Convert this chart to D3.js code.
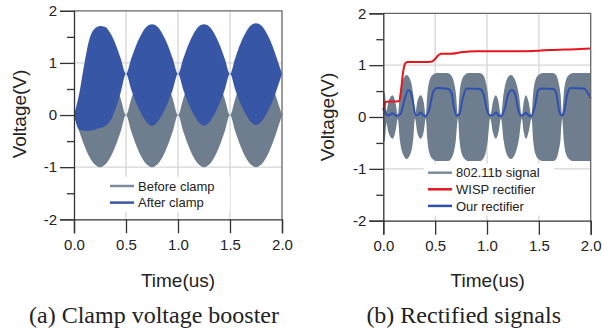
<!DOCTYPE html>
<html>
<head>
<meta charset="utf-8">
<script src="https://cdn.jsdelivr.net/npm/d3@7"></script>
<style>
  body { margin: 0; background: #fff; }
  svg { display: block; }
  text { font-family: "Liberation Sans", Arial, sans-serif; fill: #222; }
</style>
</head>
<body>
<script>
const width = 602;
const height = 334;

// ---- (a) clamp voltage booster: envelopes of the carrier
const clampT = [0, 0.05, 0.1, 0.15, 0.2, 0.25, 0.3, 0.35, 0.4, 0.45,
  0.5, 0.55, 0.6, 0.65, 0.7, 0.75, 0.8, 0.85, 0.9, 0.95,
  1.0, 1.05, 1.1, 1.15, 1.2, 1.25, 1.3, 1.35, 1.4, 1.45,
  1.5, 1.55, 1.6, 1.65, 1.7, 1.75, 1.8, 1.85, 1.9, 1.95, 2.0];
const beforeEnv = [0, 0.31, 0.59, 0.81, 0.95, 1.0, 0.95, 0.81, 0.59, 0.31,
  0, 0.31, 0.59, 0.81, 0.95, 1.0, 0.95, 0.81, 0.59, 0.31,
  0, 0.31, 0.59, 0.81, 0.95, 1.0, 0.95, 0.81, 0.59, 0.31,
  0, 0.31, 0.59, 0.81, 0.95, 1.0, 0.95, 0.81, 0.59, 0.31, 0];
const afterHi = [0, 0.41, 0.99, 1.47, 1.66, 1.71, 1.69, 1.57, 1.36, 1.08,
  0.79, 1.08, 1.35, 1.56, 1.70, 1.74, 1.70, 1.56, 1.35, 1.08,
  0.79, 1.08, 1.35, 1.56, 1.70, 1.74, 1.70, 1.56, 1.35, 1.08,
  0.79, 1.09, 1.37, 1.58, 1.72, 1.76, 1.72, 1.58, 1.37, 1.09, 0.79];
const afterLo = [0, -0.28, -0.30, -0.30, -0.28, -0.25, -0.21, -0.11, 0.12, 0.44,
  0.79, 0.49, 0.22, 0.01, -0.14, -0.21, -0.14, 0.01, 0.22, 0.49,
  0.79, 0.49, 0.22, 0.01, -0.14, -0.21, -0.14, 0.01, 0.22, 0.49,
  0.79, 0.49, 0.22, 0.02, -0.13, -0.19, -0.13, 0.02, 0.22, 0.49, 0.79];

// ---- (b) rectified signals
const sigT = [0, 0.015, 0.03, 0.05, 0.09, 0.12, 0.14, 0.16, 0.19, 0.225, 0.26, 0.29, 0.305,
  0.33, 0.36, 0.39, 0.41, 0.425, 0.445, 0.475, 0.52, 0.62, 0.655, 0.68, 0.70, 0.72,
  0.735, 0.755, 0.785, 0.82, 0.93, 0.965, 0.99, 1.01, 1.03,
  1.06, 1.085, 1.11, 1.135, 1.16, 1.19, 1.23, 1.27, 1.31, 1.335,
  1.355, 1.376, 1.40, 1.43, 1.445, 1.465, 1.495, 1.54, 1.635, 1.67, 1.69, 1.71, 1.725,
  1.74, 1.76, 1.79, 1.83, 2.0];
const sigAmp = [0.50, 0.45, 0.12, 0.30, 0.42, 0.25, 0.04, 0.45, 0.72, 0.81, 0.72, 0.40, 0.03,
  0.32, 0.42, 0.28, 0.03, 0.45, 0.70, 0.81, 0.85, 0.85, 0.80, 0.68, 0.45, 0.03,
  0.45, 0.70, 0.81, 0.85, 0.85, 0.80, 0.66, 0.42, 0.03,
  0.32, 0.42, 0.30, 0.03, 0.45, 0.72, 0.81, 0.72, 0.40, 0.03,
  0.30, 0.42, 0.30, 0.03, 0.45, 0.70, 0.81, 0.85, 0.85, 0.80, 0.66, 0.42, 0.03,
  0.45, 0.70, 0.81, 0.85, 0.85];

const wispT = [0, 0.01, 0.02, 0.05, 0.10, 0.155, 0.17, 0.19, 0.21, 0.23, 0.30, 0.40, 0.47,
  0.50, 0.53, 0.56, 0.65, 0.75, 0.90, 1.0, 1.25, 1.5, 1.6, 1.75, 1.9, 2.0];
const wispV = [0.13, 0.20, 0.29, 0.30, 0.30, 0.31, 0.50, 0.85, 1.03, 1.06, 1.06, 1.06, 1.07,
  1.12, 1.19, 1.22, 1.22, 1.25, 1.27, 1.27, 1.27, 1.28, 1.29, 1.30, 1.31, 1.32];

const ourT = [0, 0.026, 0.048, 0.09, 0.129, 0.167, 0.2, 0.24, 0.264, 0.29, 0.31, 0.334, 0.36,
  0.386, 0.41, 0.444, 0.48, 0.52, 0.627, 0.66, 0.68, 0.707, 0.733, 0.765, 0.804, 0.932,
  0.97, 0.997, 1.03, 1.06, 1.087, 1.11, 1.138, 1.17, 1.206, 1.238, 1.27, 1.3, 1.325, 1.35,
  1.376, 1.40, 1.428, 1.46, 1.495, 1.527, 1.64, 1.672, 1.695, 1.72, 1.743, 1.775, 1.807,
  1.936, 1.968, 2.0];
const ourV = [0.17, 0.06, 0.03, 0.07, 0.02, 0.06, 0.30, 0.52, 0.48, 0.25, 0.04, 0.04, 0.09,
  0.03, 0.02, 0.15, 0.48, 0.56, 0.54, 0.45, 0.20, 0.03, 0.05, 0.35, 0.55, 0.54,
  0.42, 0.15, 0.03, 0.04, 0.09, 0.03, 0.02, 0.15, 0.45, 0.52, 0.45, 0.15, 0.03, 0.04,
  0.08, 0.03, 0.02, 0.20, 0.52, 0.55, 0.54, 0.42, 0.12, 0.03, 0.10, 0.45, 0.56,
  0.55, 0.48, 0.36];

const xTicks = [0, 0.5, 1.0, 1.5, 2.0];
const yTicks = [-2, -1, 0, 1, 2];
const yMinor = [-1.5, -0.5, 0.5, 1.5];
const gridX = [0.5, 1.0, 1.5];
const gridY = [-1, 0, 1];

const grayCol = "#6e7e8e";
const blueFill = "#3757a6";
const blueLine = "#2f50b0";
const redLine = "#e8141c";

const svg = d3.select("body").append("svg")
  .attr("width", width).attr("height", height);

function panel(left, right, top, bottom) {
  const x = d3.scaleLinear().domain([0, 2]).range([left, right]);
  const y = d3.scaleLinear().domain([-2, 2]).range([bottom, top]);
  const g = svg.append("g");
  // grid
  g.selectAll(".gx").data(gridX).join("line")
    .attr("x1", d => x(d)).attr("x2", d => x(d))
    .attr("y1", top).attr("y2", bottom)
    .attr("stroke", "#d6d6d6").attr("stroke-width", 1.3);
  g.selectAll(".gy").data(gridY).join("line")
    .attr("x1", left).attr("x2", right)
    .attr("y1", d => y(d)).attr("y2", d => y(d))
    .attr("stroke", "#d6d6d6").attr("stroke-width", 1.3);
  const plot = g.append("g");
  // frame top/right
  g.append("path")
    .attr("d", `M${left},${top}H${right}V${bottom}`)
    .attr("fill", "none").attr("stroke", "#666").attr("stroke-width", 1.3);
  // axes
  g.append("g").attr("transform", `translate(0,${bottom})`)
    .call(d3.axisBottom(x).tickValues(xTicks).tickFormat(d3.format(".1f")).tickSize(14).tickPadding(6));
  const ay = g.append("g").attr("transform", `translate(${left},0)`)
    .call(d3.axisLeft(y).tickValues(yTicks).tickFormat(d3.format("d")).tickSize(14).tickPadding(3));
  g.append("g").attr("transform", `translate(${left},0)`)
    .call(d3.axisLeft(y).tickValues(yMinor).tickFormat("").tickSize(7))
    .select(".domain").remove();
  g.selectAll(".domain, .tick line").attr("stroke", "#333").attr("stroke-width", 1.3);
  g.selectAll(".tick text").style("font-size", "15px").attr("fill", "#222")
    .style("font-family", "Liberation Sans, Arial, sans-serif");
  ay.selectAll(".tick text").text(d => d < 0 ? "-" + Math.abs(d) : d);
  return { x, y, plot };
}

function legend(x0, y0, items, boxW) {
  const lg = svg.append("g");
  lg.append("rect").attr("x", x0 - 4).attr("y", y0 - 9)
    .attr("width", boxW).attr("height", items.length * 16.6 + 2).attr("fill", "#fff");
  items.forEach((it, i) => {
    const yy = y0 + i * 16.6;
    lg.append("line").attr("x1", x0).attr("x2", x0 + 24).attr("y1", yy).attr("y2", yy)
      .attr("stroke", it.color).attr("stroke-width", 2.5);
    lg.append("text").attr("x", x0 + 28).attr("y", yy).attr("dy", "0.36em")
      .style("font-size", "13px").text(it.label);
  });
}

function titles(cx, cyAxis, yLabelX, caption) {
  svg.append("text").attr("x", cx).attr("y", 287).attr("text-anchor", "middle")
    .style("font-size", "19px").text("Time(us)");
  svg.append("text").attr("transform", `translate(${yLabelX},${cyAxis}) rotate(-90)`)
    .attr("text-anchor", "middle").style("font-size", "19px").text("Voltage(V)");
  svg.append("text").attr("x", cx - 24).attr("y", 323).attr("text-anchor", "middle")
    .style("font-family", "Liberation Serif, Times New Roman, serif")
    .style("font-size", "24px").attr("fill", "#111").text(caption);
}

// ---------- (a)
const A = panel(74, 282, 10.8, 219.3);
const clampData = clampT.map((t, i) => ({ t, env: beforeEnv[i], hi: afterHi[i], lo: afterLo[i] }));
A.plot.append("path").datum(clampData)
  .attr("fill", grayCol)
  .attr("d", d3.area().curve(d3.curveMonotoneX).x(d => A.x(d.t))
    .y0(d => A.y(-d.env)).y1(d => A.y(d.env)));
A.plot.append("path").datum(clampData)
  .attr("fill", blueFill)
  .attr("d", d3.area().curve(d3.curveMonotoneX).x(d => A.x(d.t))
    .y0(d => A.y(d.lo)).y1(d => A.y(d.hi)));
legend(110, 186, [
  { label: "Before clamp", color: "#7d8d9c" },
  { label: "After clamp", color: blueFill }], 124);
titles(178, 114, 26, "(a) Clamp voltage booster");

// ---------- (b)
const B = panel(383.3, 590.7, 13.3, 220.7);
const sigData = sigT.map((t, i) => ({ t, a: sigAmp[i] }));
B.plot.append("path").datum(sigData)
  .attr("fill", grayCol)
  .attr("d", d3.area().curve(d3.curveMonotoneX).x(d => B.x(d.t))
    .y0(d => B.y(-d.a)).y1(d => B.y(d.a)));
B.plot.append("path").datum(wispT.map((t, i) => [t, wispV[i]]))
  .attr("fill", "none").attr("stroke", redLine).attr("stroke-width", 2)
  .attr("d", d3.line().curve(d3.curveMonotoneX).x(d => B.x(d[0])).y(d => B.y(d[1])));
B.plot.append("path").datum(ourT.map((t, i) => [t, ourV[i]]))
  .attr("fill", "none").attr("stroke", blueLine).attr("stroke-width", 2)
  .attr("d", d3.line().curve(d3.curveMonotoneX).x(d => B.x(d[0])).y(d => B.y(d[1])));
legend(428, 172.7, [
  { label: "802.11b signal", color: "#7d8d9c" },
  { label: "WISP rectifier", color: redLine },
  { label: "Our rectifier", color: blueLine }], 130);
titles(487.7, 117, 334, "(b) Rectified signals");
</script>
</body>
</html>
